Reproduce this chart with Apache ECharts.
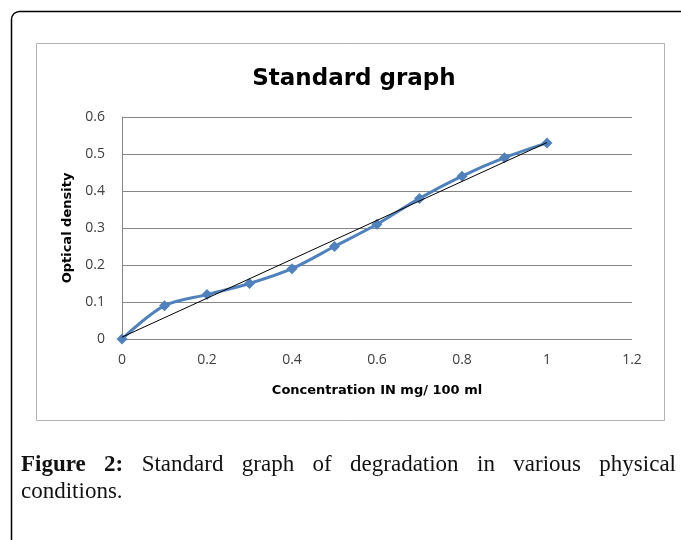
<!DOCTYPE html>
<html>
<head>
<meta charset="utf-8">
<style>html,body{margin:0;padding:0;background:#fff;}#c{width:681px;height:540px;}</style>
<script src="https://cdn.jsdelivr.net/npm/echarts@6/dist/echarts.min.js"></script>
</head>
<body>
<div id="c"></div>
<script>
var concentration = [0, 0.1, 0.2, 0.3, 0.4, 0.5, 0.6, 0.7, 0.8, 0.9, 1.0];
var opticalDensity = [0, 0.09, 0.12, 0.15, 0.19, 0.25, 0.31, 0.38, 0.44, 0.49, 0.53];
var trendX = [0, 1.0];
var trendY = [0.005, 0.531];
var xTicks = [0, 0.2, 0.4, 0.6, 0.8, 1, 1.2];
var yTicks = [0, 0.1, 0.2, 0.3, 0.4, 0.5, 0.6];
var captionBold = ['Figure', '2:'];
var captionLine1 = ['Standard', 'graph', 'of', 'degradation', 'in', 'various', 'physical'];
var captionLine2 = ['conditions.'];

var chart = echarts.init(document.getElementById('c'));
var titleFont = 'DejaVu Sans';
var tickFont = 'Open Sans';
var serif = 'Liberation Serif';
var capSize = 23;
var boldFont = 'bold ' + capSize + 'px "' + serif + '"';
var regFont = capSize + 'px "' + serif + '"';

// justified caption layout (line 1 spans lineLeft..lineRight)
var lineLeft = 21, lineRight = 676;
var ctx = document.createElement('canvas').getContext('2d');
var words = captionBold.map(function(w){ return {t:w, f:boldFont}; })
  .concat(captionLine1.map(function(w){ return {t:w, f:regFont}; }));
var total = 0;
words.forEach(function(w){ ctx.font = w.f; w.w = ctx.measureText(w.t).width; total += w.w; });
var gap = (lineRight - lineLeft - total) / (words.length - 1);

var graphics = [
  {type:'rect', shape:{x:11.5, y:11.5, width:720, height:580, r:8}, style:{fill:'none', stroke:'#000', lineWidth:1.5}, z:-1},
  {type:'rect', shape:{x:36.5, y:43.5, width:628, height:377}, style:{fill:'#fff', stroke:'#b3b3b3', lineWidth:1}, z:-1}
];
var cx = lineLeft;
words.forEach(function(w){
  graphics.push({type:'text', x:cx, y:465, style:{text:w.t, font:w.f, fill:'#111', textVerticalAlign:'middle'}});
  cx += w.w + gap;
});
graphics.push({type:'text', x:lineLeft, y:492, style:{text:captionLine2.join(' '), font:regFont, fill:'#111', textVerticalAlign:'middle'}});

function fmt(v){ return String(Math.round(v*10)/10); }

chart.setOption({
  animation:false,
  backgroundColor:'#fff',
  title:{text:'Standard graph', left:349, top:63, textAlign:'center',
    textStyle:{fontFamily:titleFont, fontWeight:'bold', fontSize:23, color:'#000'}},
  grid:{left:122, right:49, top:117, bottom:201},
  xAxis:{type:'value', min:xTicks[0], max:xTicks[xTicks.length-1], interval:0.2,
    name:'Concentration IN mg/ 100 ml', nameLocation:'middle', nameGap:45,
    nameTextStyle:{fontFamily:titleFont, fontWeight:'bold', fontSize:13, color:'#000'},
    axisLine:{show:false}, axisTick:{show:false}, splitLine:{show:false},
    axisLabel:{fontFamily:tickFont, fontSize:14, color:'#404040', margin:14, formatter:fmt}},
  yAxis:{type:'value', min:yTicks[0], max:yTicks[yTicks.length-1], interval:0.1,
    name:'Optical density', nameLocation:'middle', nameGap:46,
    nameTextStyle:{fontFamily:titleFont, fontWeight:'bold', fontSize:13, color:'#000'},
    axisLine:{show:true, lineStyle:{color:'#868686', width:1}}, axisTick:{show:false},
    splitLine:{show:true, lineStyle:{color:'#868686', width:1}},
    axisLabel:{fontFamily:tickFont, fontSize:14, color:'#404040', margin:17, formatter:fmt}},
  graphic:graphics,
  series:[
    {type:'line', smooth:0.3, data:concentration.map(function(x,i){return [x, opticalDensity[i]];}),
      symbol:'diamond', symbolSize:11, lineStyle:{color:'#4F81BD', width:3},
      itemStyle:{color:'#4F81BD'}, z:2},
    {type:'line', data:trendX.map(function(x,i){return [x, trendY[i]];}),
      symbol:'none', lineStyle:{color:'#000', width:1}, z:3}
  ]
});
</script>
</body>
</html>
